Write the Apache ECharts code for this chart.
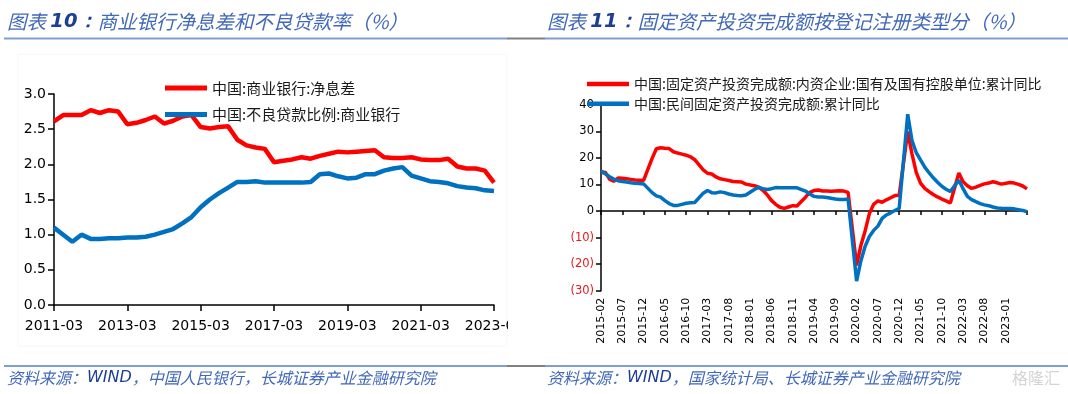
<!DOCTYPE html>
<html><head><meta charset="utf-8">
<script src="https://cdn.jsdelivr.net/npm/echarts@6/dist/echarts.min.js"></script>
<style>html,body{margin:0;padding:0;background:#fff}#c{width:1068px;height:394px}</style>
</head><body><div id="c"></div><script>
// ---------- Left chart: quarterly ----------
const quarters = [
 '2011-03','2011-06','2011-09','2011-12','2012-03','2012-06','2012-09','2012-12',
 '2013-03','2013-06','2013-09','2013-12','2014-03','2014-06','2014-09','2014-12',
 '2015-03','2015-06','2015-09','2015-12','2016-03','2016-06','2016-09','2016-12',
 '2017-03','2017-06','2017-09','2017-12','2018-03','2018-06','2018-09','2018-12',
 '2019-03','2019-06','2019-09','2019-12','2020-03','2020-06','2020-09','2020-12',
 '2021-03','2021-06','2021-09','2021-12','2022-03','2022-06','2022-09','2022-12',
 '2023-03'];
const nimValues = [
 2.61,2.70,2.70,2.70, 2.77,2.73,2.77,2.75, 2.57,2.59,2.63,2.68, 2.58,2.62,2.68,2.70,
 2.53,2.51,2.53,2.54, 2.35,2.27,2.24,2.22, 2.03,2.05,2.07,2.10, 2.08,2.12,2.15,2.18,
 2.17,2.18,2.19,2.20, 2.10,2.09,2.09,2.10, 2.07,2.06,2.06,2.08, 1.97,1.94,1.94,1.91,
 1.74];
const nplValues = [
 1.10,1.00,0.90,1.00, 0.94,0.94,0.95,0.95, 0.96,0.96,0.97,1.00, 1.04,1.08,1.16,1.25,
 1.39,1.50,1.59,1.67, 1.75,1.75,1.76,1.74, 1.74,1.74,1.74,1.74, 1.75,1.86,1.87,1.83,
 1.80,1.81,1.86,1.86, 1.91,1.94,1.96,1.84, 1.80,1.76,1.75,1.73, 1.69,1.67,1.66,1.63,
 1.62];
const leftNames = ['中国:商业银行:净息差','中国:不良贷款比例:商业银行'];

// ---------- Right chart: monthly ----------
const months = [
 '2015-02','2015-03','2015-04','2015-05','2015-06','2015-07','2015-08','2015-09','2015-10','2015-11','2015-12',
 '2016-01','2016-02','2016-03','2016-04','2016-05','2016-06','2016-07','2016-08','2016-09','2016-10','2016-11','2016-12',
 '2017-01','2017-02','2017-03','2017-04','2017-05','2017-06','2017-07','2017-08','2017-09','2017-10','2017-11','2017-12',
 '2018-01','2018-02','2018-03','2018-04','2018-05','2018-06','2018-07','2018-08','2018-09','2018-10','2018-11','2018-12',
 '2019-01','2019-02','2019-03','2019-04','2019-05','2019-06','2019-07','2019-08','2019-09','2019-10','2019-11','2019-12',
 '2020-01','2020-02','2020-03','2020-04','2020-05','2020-06','2020-07','2020-08','2020-09','2020-10','2020-11','2020-12',
 '2021-01','2021-02','2021-03','2021-04','2021-05','2021-06','2021-07','2021-08','2021-09','2021-10','2021-11','2021-12',
 '2022-01','2022-02','2022-03','2022-04','2022-05','2022-06','2022-07','2022-08','2022-09','2022-10','2022-11','2022-12',
 '2023-01','2023-02','2023-03','2023-04','2023-05','2023-06'];
const soeValues = [
 14.4,14.6,12.0,11.2,12.4,12.3,12.1,11.9,11.7,11.6,11.5,
 null,19.8,23.4,23.8,23.6,23.5,22.3,21.8,21.4,21.0,20.4,19.3,
 null,15.5,14.2,13.9,12.8,12.1,11.8,11.5,11.1,11.0,10.9,10.1,
 null,9.5,9.0,7.8,6.1,4.0,2.5,1.4,1.0,1.5,2.0,1.9,
 null,5.2,7.0,7.7,7.9,7.5,7.5,7.4,7.5,7.6,7.5,7.0,
 null,-20.5,-13.0,-7.5,-1.0,2.5,3.8,3.3,4.2,5.0,5.8,5.9,
 null,29.9,21.5,14.5,10.5,8.5,7.3,6.2,5.3,4.5,3.8,3.0,
 null,14.3,11.0,9.5,8.5,9.0,9.6,10.2,10.5,11.0,10.6,10.1,
 null,10.7,10.5,10.0,9.4,8.3];
const privateValues = [
 15.1,14.0,12.9,12.0,11.4,11.1,10.9,10.6,10.4,10.3,10.2,
 null,6.9,5.7,5.2,3.9,2.8,2.1,2.1,2.5,2.9,3.1,3.2,
 null,6.7,7.7,6.9,6.8,7.2,6.9,6.4,6.0,5.8,5.7,6.0,
 null,8.1,8.9,8.4,8.1,8.4,8.8,8.7,8.7,8.7,8.7,8.7,
 null,7.5,6.4,5.5,5.3,5.3,5.1,4.8,4.5,4.3,4.3,4.5,
 null,-26.4,-18.8,-13.3,-9.6,-7.3,-5.7,-2.8,-1.5,-0.7,0.2,1.0,
 null,36.4,26.5,22.0,19.2,16.5,14.4,12.5,10.8,9.3,8.2,7.3,
 null,11.6,8.4,5.5,4.3,3.5,2.8,2.3,2.0,1.5,1.1,1.0,
 null,0.9,0.8,0.5,0.2,-0.3];
const rightNames = ['中国:固定资产投资完成额:内资企业:国有及国有控股单位:累计同比','中国:民间固定资产投资完成额:累计同比'];

const RED = '#ff0000', BLUE = '#0070c0';
const AXF = 'DejaVu Sans, Verdana, sans-serif';
const CJK = 'Noto Sans CJK SC, sans-serif';
const axisLine = {show:true, onZero:true, lineStyle:{color:'#000', width:1.5}};

const chart = echarts.init(document.getElementById('c'), null, {renderer:'canvas'});

function titleText(x, num, rest) {
  return {type:'text', x:x, y:22, z:10, style:{
    text:'{a|图表 }{b|' + num + '：}{a|' + rest + '}',
    verticalAlign:'middle',
    rich:{
      a:{fontSize:19.5, fontStyle:'italic', fontFamily:CJK, fill:'#4169b8'},
      b:{fontSize:19.5, fontStyle:'italic', fontWeight:'bold', fontFamily:AXF, fill:'#1c3f94'}
    }}};
}
function footText(x, rest) {
  return {type:'text', x:x, y:378, z:10, style:{
    text:'{a|资料来源：}{b|WIND}{a|' + rest + '}',
    verticalAlign:'middle',
    rich:{
      a:{fontSize:16, fontStyle:'italic', fontFamily:CJK, fill:'#4169b8'},
      b:{fontSize:16, fontStyle:'italic', fontFamily:AXF, fill:'#1c3f94'}
    }}};
}
function hline(x1, x2, y, color) {
  return {type:'line', z:10, shape:{x1:x1, y1:y, x2:x2, y2:y}, style:{stroke:color, lineWidth:2}};
}

const option = {
  animation:false,
  backgroundColor:'#fff',
  grid:[
    {left:54, right:574, top:94, bottom:89, outerBoundsMode:'none'},
    {left:601, right:41, top:104.7, bottom:103.3, outerBoundsMode:'none'}
  ],
  legend:[
    {data:leftNames, orient:'vertical', left:160, top:73, itemWidth:42, itemHeight:5, itemGap:6.6,
     icon:'rect', textStyle:{fontSize:15, fontFamily:CJK, color:'#1a1a1a', lineHeight:20}},
    {data:rightNames, orient:'vertical', left:582, top:71, itemWidth:42, itemHeight:4.5, itemGap:3.7,
     icon:'rect', textStyle:{fontSize:14, fontFamily:CJK, color:'#1a1a1a', lineHeight:16}}
  ],
  xAxis:[
    {gridIndex:0, type:'category', data:quarters, boundaryGap:false,
     axisLine:axisLine,
     axisTick:{show:true, interval:7, length:6, lineStyle:{color:'#000', width:1.5}},
     axisLabel:{interval:7, color:'#000', fontSize:14, fontFamily:AXF, margin:14},
     splitLine:{show:false}},
    {gridIndex:1, type:'category', data:months, boundaryGap:false,
     axisLine:axisLine,
     axisTick:{show:true, interval:function(i){return i % 5 === 0;}, length:4, lineStyle:{color:'#000', width:1.5}},
     axisLabel:{show:false}, splitLine:{show:false}},
    {gridIndex:1, type:'category', data:months, boundaryGap:false, position:'bottom',
     axisLine:{show:false, onZero:false}, axisTick:{show:false},
     axisLabel:{interval:function(i){return i % 5 === 0 && i < 100;}, rotate:90, color:'#000',
                fontSize:11, fontFamily:AXF, margin:7},
     splitLine:{show:false}}
  ],
  yAxis:[
    {gridIndex:0, type:'value', min:0, max:3, interval:0.5,
     axisLine:axisLine,
     axisTick:{show:true, length:6, lineStyle:{color:'#000', width:1.5}},
     axisLabel:{formatter:function(v){return v.toFixed(1);}, color:'#000', fontSize:14, fontFamily:AXF, margin:8},
     splitLine:{show:false}},
    {gridIndex:1, type:'value', min:-30, max:40, interval:10,
     axisLine:axisLine,
     axisTick:{show:true, length:5, lineStyle:{color:'#000', width:1.5}},
     axisLabel:{formatter:function(v){return v < 0 ? '(' + (-v) + ')' : String(v);},
                color:function(v){return Number(v) < 0 ? '#e31a1c' : '#000';},
                fontSize:11.5, fontFamily:AXF, margin:7},
     splitLine:{show:false}}
  ],
  series:[
    {name:leftNames[0], type:'line', xAxisIndex:0, yAxisIndex:0, data:nimValues, symbol:'none',
     lineStyle:{color:RED, width:4.5}, itemStyle:{color:RED}},
    {name:leftNames[1], type:'line', xAxisIndex:0, yAxisIndex:0, data:nplValues, symbol:'none',
     lineStyle:{color:BLUE, width:4.5}, itemStyle:{color:BLUE}},
    {name:rightNames[0], type:'line', xAxisIndex:1, yAxisIndex:1, data:soeValues, symbol:'none', connectNulls:true,
     lineStyle:{color:RED, width:3.5}, itemStyle:{color:RED}},
    {name:rightNames[1], type:'line', xAxisIndex:1, yAxisIndex:1, data:privateValues, symbol:'none', connectNulls:true,
     lineStyle:{color:BLUE, width:3.5}, itemStyle:{color:BLUE}}
  ],
  graphic:[
    {type:'rect', z:-1, shape:{x:18, y:54, width:489, height:292}, style:{fill:null, stroke:'#f6f6f6', lineWidth:1}},
    {type:'rect', z:100, shape:{x:508, y:310, width:24, height:40}, style:{fill:'#fff'}},
    titleText(7, '10', '商业银行净息差和不良贷款率（%）'),
    titleText(547, '11', '固定资产投资完成额按登记注册类型分（%）'),
    hline(4, 507, 38.5, '#7f9fd0'), hline(507, 545, 38.5, '#808080'), hline(545, 1068, 38.5, '#7f9fd0'),
    hline(4, 507, 366, '#7f9fd0'), hline(507, 545, 366, '#808080'), hline(545, 1068, 366, '#7f9fd0'),
    footText(7, '，中国人民银行，长城证券产业金融研究院'),
    footText(547, '，国家统计局、长城证券产业金融研究院'),
    {type:'text', x:1012, y:378, z:10, style:{text:'格隆汇', fontSize:16, fontFamily:CJK, fill:'#d4d4d4', verticalAlign:'middle'}}
  ]
};
chart.setOption(option);
</script></body></html>
